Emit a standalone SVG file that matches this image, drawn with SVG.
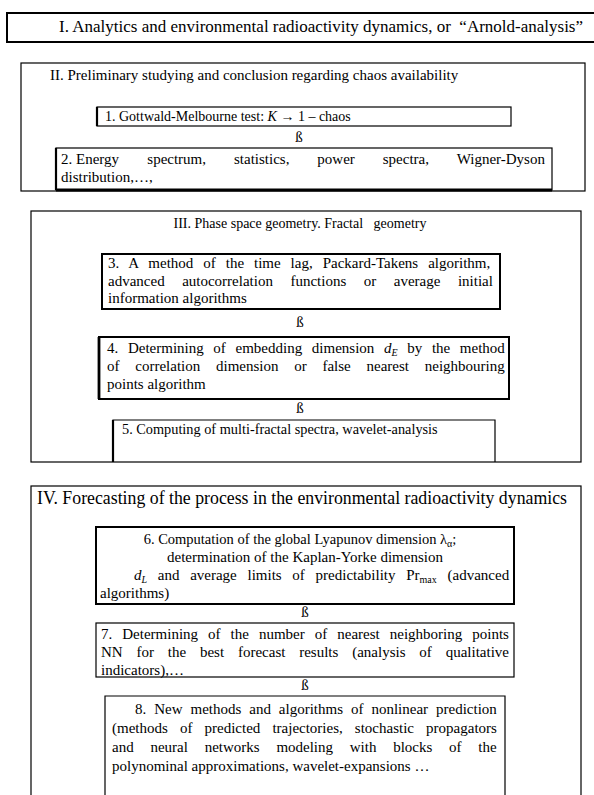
<svg xmlns="http://www.w3.org/2000/svg" width="594" height="795" viewBox="0 0 594 795">
<style>
text{font-family:"Liberation Serif","Times New Roman",serif;font-size:15px;fill:#000}
.b{fill:none;stroke:#000;stroke-width:1.2}
.t{fill:none;stroke:#000;stroke-width:2}
.e{stroke:#000;stroke-width:2.2}
.c{text-anchor:middle}
.s{font-size:10px}
</style>
<rect width="594" height="795" fill="#fff"/>
<g id="sec1"><rect class="t" x="7" y="13" width="600" height="29"/>
<text x="59" y="32" style="font-size:17px" xml:space="preserve">I. Analytics and environmental radioactivity dynamics, or  “Arnold-analysis”</text></g>
<g id="sec2"><rect class="b" x="21" y="63" width="564" height="128"/>
<text x="50" y="80">II. Preliminary studying and conclusion regarding chaos availability</text></g>
<g id="n1"><rect class="b" x="97" y="107" width="414" height="19"/>
<line class="e" x1="97" y1="107" x2="97" y2="126"/>
<text x="105" y="121" style="font-size:14px">1. Gottwald-Melbourne test: <tspan font-style="italic">K</tspan> → 1 – chaos</text></g>
<g id="n2"><rect class="b" x="56" y="148" width="496" height="42"/>
<line class="e" x1="56" y1="148" x2="56" y2="190"/>
<line x1="56" y1="190" x2="552" y2="190" stroke="#000" stroke-width="3"/>
<text y="164"><tspan x="61">2. Energy</tspan><tspan x="147.3" word-spacing="24.2">spectrum, statistics, power spectra, Wigner-Dyson</tspan></text>
<text x="61" y="182">distribution,…,</text></g>
<g id="sec3"><rect class="b" x="31" y="211" width="550" height="251"/>
<text class="c" x="300" y="228" style="font-size:14px" xml:space="preserve">III. Phase space geometry. Fractal   geometry</text></g>
<g id="n3"><rect class="t" x="102" y="254" width="398" height="55"/>
<text x="108" y="268" word-spacing="6.2">3. A method of the time lag, Packard-Takens algorithm,</text>
<text x="108" y="286" word-spacing="13.76">advanced autocorrelation functions or average initial</text>
<text x="108" y="303">information algorithms</text></g>
<g id="n4"><rect class="t" x="99" y="337" width="410" height="62"/>
<line x1="99" y1="337" x2="99" y2="399" stroke="#000" stroke-width="2.8"/>
<text x="107" y="353" word-spacing="5.9">4. Determining of embedding dimension <tspan font-style="italic">d</tspan><tspan class="s" font-style="italic" dy="3">E</tspan><tspan dy="-3"> by the method</tspan></text>
<text x="107" y="371" word-spacing="12">of correlation dimension or false nearest neighbouring</text>
<text x="107" y="389">points algorithm</text></g>
<g id="n5"><polyline class="b" points="113,462 113,420 495,420 495,462"/>
<line class="e" x1="113" y1="420" x2="113" y2="462"/>
<text x="122" y="434" style="font-size:14.3px">5. Computing of multi-fractal spectra, wavelet-analysis</text></g>
<g id="sec4"><rect class="b" x="31" y="486" width="550" height="320"/>
<text x="37" y="504" style="font-size:17.8px">IV. Forecasting of the process in the environmental radioactivity dynamics</text></g>
<g id="n6"><rect class="t" x="96" y="527" width="418" height="77"/>
<text class="c" x="300" y="544" style="font-size:14.5px">6. Computation of the global Lyapunov dimension λ<tspan class="s" dy="3">α</tspan><tspan dy="-3">;</tspan></text>
<text class="c" x="305" y="562">determination of the Kaplan-Yorke dimension</text>
<text x="134" y="580" word-spacing="6.96"><tspan font-style="italic">d</tspan><tspan class="s" font-style="italic" dy="3">L</tspan><tspan dy="-3"> and average limits of predictability Pr</tspan><tspan class="s" dy="3">max</tspan><tspan dy="-3"> (advanced</tspan></text>
<text x="100" y="598">algorithms)</text></g>
<g id="n7"><rect class="b" x="96" y="623" width="418" height="54"/>
<text x="101" y="639" word-spacing="6.26">7. Determining of the number of nearest neighboring points</text>
<text x="101" y="657" word-spacing="10.07">NN for the best forecast results (analysis of qualitative</text>
<text x="101" y="675">indicators),…</text></g>
<g id="n8"><polyline class="b" points="105,800 105,696 505,696 505,800"/>
<text x="135" y="714" word-spacing="4.2">8. New methods and algorithms of nonlinear prediction</text>
<text x="112" y="733" word-spacing="8.34">(methods of predicted trajectories, stochastic propagators</text>
<text x="112" y="752" word-spacing="13">and neural networks modeling with blocks of the</text>
<text x="112" y="771">polynominal approximations, wavelet-expansions …</text></g>
<g id="connectors">
<text class="c" x="299" y="142">ß</text>
<text class="c" x="300" y="327">ß</text>
<text class="c" x="300" y="413">ß</text>
<text class="c" x="305" y="617">ß</text>
<text class="c" x="305" y="690">ß</text>
</g>
</svg>
